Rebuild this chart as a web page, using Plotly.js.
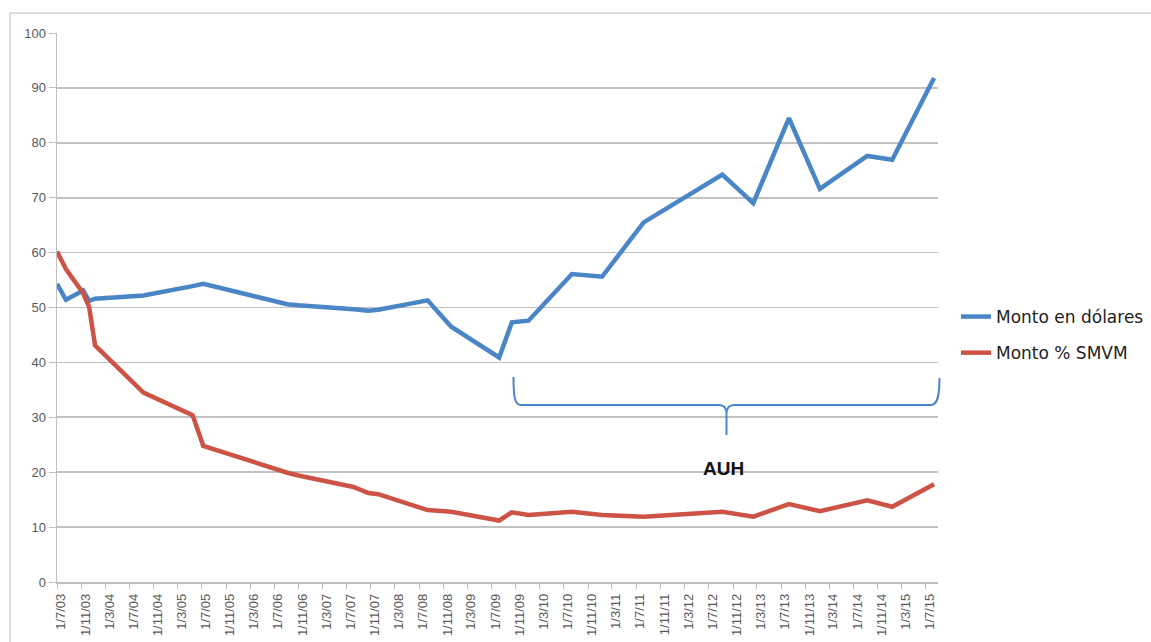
<!DOCTYPE html>
<html>
<head>
<meta charset="utf-8">
<script src="https://cdn.plot.ly/plotly-3.0.1.min.js"></script>
<style>
  html, body { margin: 0; padding: 0; background: #ffffff; }
  #chart { width: 1151px; height: 642px; }
</style>
</head>
<body>
<div id="chart"></div>
<script>
// ---- Data ----
const fechas = [
  "2003-07-01", "2003-08-15", "2003-11-10", "2003-12-10", "2004-01-09",
  "2004-09-09", "2005-05-15", "2005-07-08", "2006-09-05", "2006-10-31",
  "2007-08-05", "2007-10-19", "2007-12-08", "2008-08-13", "2008-12-10",
  "2009-08-09", "2009-10-12", "2010-01-04", "2010-08-11", "2011-01-10",
  "2011-08-08", "2012-09-08", "2013-02-11", "2013-08-10", "2014-01-13",
  "2014-09-09", "2015-01-13", "2015-08-12"
];
const montoDolares = [
  54.3, 51.4, 53.1, 51.2, 51.6,
  52.2, 53.9, 54.3, 50.6, 50.4,
  49.7, 49.4, 49.6, 51.3, 46.5,
  40.9, 47.3, 47.6, 56.1, 55.6,
  65.5, 74.2, 69.0, 84.5, 71.6,
  77.6, 76.9, 91.8
];
const montoSMVM = [
  60.2, 57.0, 52.6, 50.1, 43.1,
  34.5, 30.4, 24.8, 19.9, 19.4,
  17.3, 16.2, 16.0, 13.1, 12.8,
  11.2, 12.7, 12.2, 12.8, 12.2,
  11.9, 12.8, 11.9, 14.2, 12.9,
  14.9, 13.7, 17.8
];
const serieNombres = ["Monto en dólares", "Monto % SMVM"];
const tickLabels = [
  "1/7/03","1/11/03","1/3/04","1/7/04","1/11/04","1/3/05","1/7/05","1/11/05",
  "1/3/06","1/7/06","1/11/06","1/3/07","1/7/07","1/11/07","1/3/08","1/7/08",
  "1/11/08","1/3/09","1/7/09","1/11/09","1/3/10","1/7/10","1/11/10","1/3/11",
  "1/7/11","1/11/11","1/3/12","1/7/12","1/11/12","1/3/13","1/7/13","1/11/13",
  "1/3/14","1/7/14","1/11/14","1/3/15","1/7/15"
];
const anotacionTexto = "AUH";

// tick values derived from the d/m/yy labels
const tickVals = tickLabels.map(function (s) {
  const p = s.split("/");
  const d = ("0" + p[0]).slice(-2), m = ("0" + p[1]).slice(-2);
  return "20" + p[2] + "-" + m + "-" + d;
});

// ---- Layout geometry ----
const W = 1151, H = 642;
const M = { l: 57, r: 213, t: 33, b: 60, autoexpand: false };
const PW = W - M.l - M.r, PH = H - M.t - M.b;
function px(x) { return ((x - M.l) / PW).toFixed(5); }
function py(y) { return ((H - M.b - y) / PH).toFixed(5); }
function P(x, y) { return px(x) + "," + py(y); }

const bracePath =
  "M" + P(513.5, 377) +
  " C" + P(513.5, 396) + " " + P(514.5, 405) + " " + P(521, 405) +
  " L" + P(719, 405) +
  " C" + P(724, 405) + " " + P(726.5, 408) + " " + P(726.5, 414) +
  " L" + P(726.5, 435) +
  " M" + P(726.5, 414) +
  " C" + P(726.5, 408) + " " + P(729, 405) + " " + P(734, 405) +
  " L" + P(931, 405) +
  " C" + P(937.5, 405) + " " + P(939.5, 396) + " " + P(939.5, 378);

const BLUE = "#4a86c6", RED = "#cd5346";
const tickFont = { family: "Liberation Sans, Arial, sans-serif", size: 13, color: "#595959" };

const traces = [
  {
    x: fechas, y: montoDolares, name: serieNombres[0], type: "scatter", mode: "lines",
    line: { color: BLUE, width: 4.5 }, legendgroup: "a", hoverinfo: "skip"
  },
  {
    x: fechas, y: montoSMVM, name: serieNombres[1], type: "scatter", mode: "lines",
    line: { color: RED, width: 4.5 }, legendgroup: "b", hoverinfo: "skip"
  }
];

const layout = {
  width: W, height: H,
  margin: M,
  paper_bgcolor: "#ffffff", plot_bgcolor: "#ffffff",
  showlegend: true,
  legend: {
    x: px(956), xanchor: "left", y: py(299), yanchor: "top",
    font: { family: "DejaVu Sans, sans-serif", size: 17, color: "#222222" },
    traceorder: "grouped", tracegroupgap: 11,
    bgcolor: "rgba(0,0,0,0)", borderwidth: 0
  },
  xaxis: {
    type: "date",
    range: ["2003-07-01", "2015-09-01"],
    tickmode: "array", tickvals: tickVals, ticktext: tickLabels,
    tickangle: -90, ticklabelshift: 4,
    ticks: "outside", ticklen: 5, tickcolor: "#bfbfbf", tickwidth: 1,
    showline: true, linecolor: "#bfbfbf", linewidth: 1.5,
    showgrid: false, zeroline: false, tickfont: tickFont, fixedrange: true
  },
  yaxis: {
    range: [0, 100], dtick: 10, tick0: 0,
    ticks: "outside", ticklen: 7, tickcolor: "#bfbfbf", tickwidth: 1,
    showline: true, linecolor: "#bfbfbf", linewidth: 1.5,
    showgrid: true, gridcolor: "#c2c2c2", gridwidth: 1.6,
    zeroline: false, tickfont: tickFont, ticklabelstandoff: 0, fixedrange: true
  },
  shapes: [
    { type: "path", xref: "paper", yref: "paper", path: bracePath,
      line: { color: BLUE, width: 2 } },
    { type: "line", xref: "paper", yref: "paper",
      x0: px(10), y0: py(13), x1: px(1151), y1: py(13),
      line: { color: "#cfcfcf", width: 1.5 } },
    { type: "line", xref: "paper", yref: "paper",
      x0: px(10), y0: py(13), x1: px(10), y1: py(642),
      line: { color: "#cfcfcf", width: 1.5 } }
  ],
  annotations: [
    { xref: "paper", yref: "paper", x: px(724), y: py(468),
      text: "<b>" + anotacionTexto + "</b>", showarrow: false,
      xanchor: "center", yanchor: "middle",
      font: { family: "Liberation Sans, Arial, sans-serif", size: 19, color: "#111111" } }
  ]
};

Plotly.newPlot("chart", traces, layout, { displayModeBar: false, staticPlot: true });
</script>
</body>
</html>
